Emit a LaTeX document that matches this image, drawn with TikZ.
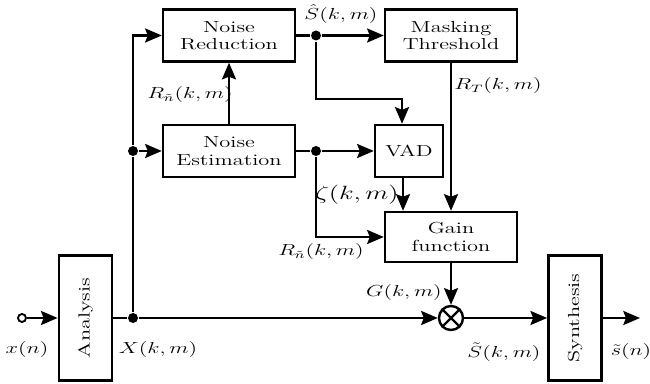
\documentclass[tikz,border=0pt]{standalone}
\usepackage{amsmath}
\usepackage{amssymb}
\usepackage{graphicx}
\usepackage{tikz}
\usetikzlibrary{arrows.meta,calc}
\newcommand{\wtx}[1]{\scalebox{1.4}[1]{#1}}
\tikzset{
  sysBox/.style={draw, fill=white, align=center, inner sep=2pt, font=\fontsize{12}{13}\selectfont, minimum width=99pt, minimum height=39pt},
  sideBox/.style={sysBox, rotate=90, minimum width=94pt, minimum height=40pt},
  joinDot/.style={circle, fill, inner sep=0pt, minimum size=7.5pt},
  openDot/.style={circle, draw, fill=white, inner sep=0pt, minimum size=6pt, line width=1.4pt},
  mixCircle/.style={circle, draw, fill=white, inner sep=0pt, minimum size=18pt},
  sysArrow/.style={-{Stealth[length=12.5pt,width=10.5pt,inset=2pt]}},
  sysLabel/.style={font=\large, inner sep=0pt}
}

\begin{document}
\begin{tikzpicture}[x=0.75pt,y=-0.75pt,line width=1.8pt]
  \useasboundingbox (0,0) rectangle (650,384);
  % blocks
  \node[sysBox] (nr) at (229,35.5) {\wtx{Noise}\\\wtx{Reduction}};
  \node[sysBox] (ne) at (229,151) {\wtx{Noise}\\\wtx{Estimation}};
  \node[sysBox] (mt) at (451,35.5) {\wtx{Masking}\\\wtx{Threshold}};
  \node[sysBox, minimum width=51pt] (vad) at (409,151) {\wtx{VAD}};
  \node[sysBox, minimum height=37.5pt] (gain) at (451,237) {\wtx{Gain}\\\wtx{function}};
  \node[sideBox] (ana) at (85.5,318) {\wtx{Analysis}};
  \node[sideBox] (syn) at (575,318) {\wtx{Synthesis}};
  \node[mixCircle] (mix) at (451,318) {};
  \draw (mix.north west) -- (mix.south east) (mix.north east) -- (mix.south west);
  % junctions
  \node[openDot] (xin) at (22,318) {};
  \node[joinDot] (dx) at (133,318) {};
  \node[joinDot] (de) at (133,151) {};
  \node[joinDot] (dh) at (316,35.5) {};
  \node[joinDot] (dn) at (316,151) {};
  \coordinate (sb) at (316,99);
  \coordinate (vadin) at ($(vad.north)+(-7,0)$);
  \coordinate (vadout) at ($(vad.south)+(-6,0)$);
  \coordinate (yout) at (640,318);
  % signal flow
  \draw[sysArrow] (xin) -- (ana);
  \draw (ana) -- (dx);
  \draw[sysArrow] (dx) -- (mix);
  \draw (dx) -- (de);
  \draw[sysArrow] (de) |- (nr);
  \draw[sysArrow] (de) -- (ne);
  \draw[sysArrow] (ne) -- (nr);
  \draw (nr) -- (dh);
  \draw[sysArrow] (dh) -- (mt);
  \draw[sysArrow] (dh) -- (sb) -| (vadin);
  \draw (ne) -- (dn);
  \draw[sysArrow] (dn) -- (vad);
  \draw[sysArrow] (dn) |- (gain);
  \draw[sysArrow] (vadout) -- (vadout |- gain.north);
  \draw[sysArrow] (mt) -- (gain);
  \draw[sysArrow] (gain) -- (mix);
  \draw[sysArrow] (mix) -- (syn);
  \draw[sysArrow] (syn) -- (yout);
  % labels
  \node[sysLabel] (lshat) at (341,14) {\wtx{$\hat{S}(k,m)$}};
  \node[sysLabel] (lrn) at (190,95) {\wtx{$R_{\tilde{n}}(k,m)$}};
  \node[sysLabel] (lrt) at (498,86) {\wtx{$R_{T}(k,m)$}};
  \node[sysLabel, font=\Large] (lzeta) at (357,195) {\wtx{$\zeta(k,m)$}};
  \node[sysLabel] (lrn2) at (321,252) {\wtx{$R_{\tilde{n}}(k,m)$}};
  \node[sysLabel] (lg) at (404,293) {\wtx{$G(k,m)$}};
  \node[sysLabel] (lx) at (27,350) {\wtx{$x(n)$}};
  \node[sysLabel] (lxx) at (158,350) {\wtx{$X(k,m)$}};
  \node[sysLabel] (lst) at (504,352) {\wtx{$\tilde{S}(k,m)$}};
  \node[sysLabel] (lso) at (631,352) {\wtx{$\tilde{s}(n)$}};
\end{tikzpicture}
\end{document}
